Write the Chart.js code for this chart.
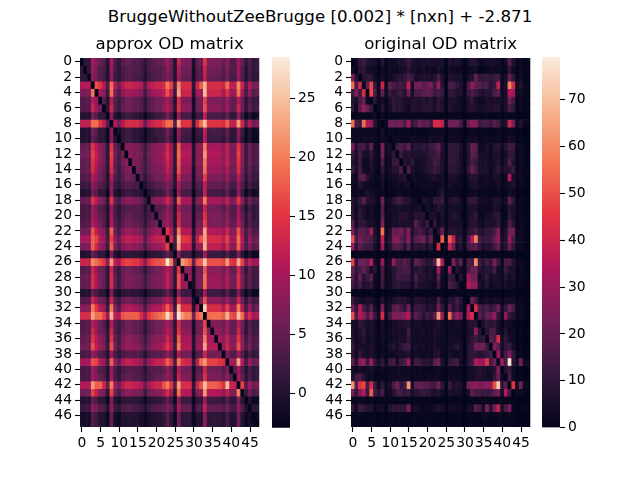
<!DOCTYPE html>
<html>
<head>
<meta charset="utf-8">
<script src="https://cdn.jsdelivr.net/npm/chart.js@4"></script>
<style>
html, body { margin: 0; padding: 0; background: #fff; }
#page { position: relative; width: 640px; height: 480px; overflow: hidden; }
#page canvas { position: absolute; }
#suptitle { position: absolute; left: 0; top: 7px; width: 640px; text-align: center; font: 16.67px "DejaVu Sans"; color: #000; }
</style>
</head>
<body>
<div id="page">
	<div id="suptitle">BruggeWithoutZeeBrugge [0.002] * [nxn] + -2.871</div>
	<canvas id="approx" style="left:30px;top:28px;width:232px;height:432px"></canvas>
	<canvas id="approxBar" style="left:272px;top:46px;width:60px;height:393px"></canvas>
	<canvas id="original" style="left:301px;top:28px;width:232px;height:432px"></canvas>
	<canvas id="originalBar" style="left:542px;top:46px;width:60px;height:393px"></canvas>
</div>
<script>
var cellLabels = [0,1,2,3,4,5,6,7,8,9,10,11,12,13,14,15,16,17,18,19,20,21,22,23,24,25,26,27,28,29,30,31,32,33,34,35,36,37,38,39,40,41,42,43,44,45,46,47];
var xTicks = [0,5,10,15,20,25,30,35,40,45];
var yTicks = [0,2,4,6,8,10,12,14,16,18,20,22,24,26,28,30,32,34,36,38,40,42,44,46];
var approxBarTicks = [0,5,10,15,20,25];
var originalBarTicks = [0,10,20,30,40,50,60,70];
var approxRange = [-2.87, 28.5];
var originalRange = [0, 79];

var approxMatrix = [
[-3,1,1,10,7,5,4,0,10,3,1,4,5,5,4,4,3,1,3,4,5,5,6,9,6,0,13,7,7,7,-1,5,5,15,7,7,7,7,5,8,4,4,10,5,1,4,1,2],
[1,-3,1,9,6,4,3,0,9,3,1,3,4,4,4,4,3,0,3,4,4,4,5,8,5,0,11,6,6,6,-1,4,4,13,6,6,6,6,4,7,4,4,9,4,0,3,1,2],
[1,1,-3,8,6,4,3,0,8,2,1,3,4,4,3,3,2,0,2,3,4,4,5,7,5,0,10,5,5,5,-1,4,4,12,5,5,5,5,4,6,3,3,8,4,0,3,1,1],
[11,11,11,-3,17,15,11,4,19,11,6,11,13,13,12,12,11,4,11,12,13,13,14,20,16,4,21,14,14,14,1,13,18,24,14,14,14,14,13,19,12,12,21,13,4,11,6,7],
[7,7,7,19,-3,10,8,2,19,7,4,8,10,10,9,9,7,3,7,9,10,10,12,17,12,2,23,13,13,13,0,10,10,25,13,13,13,13,10,15,9,9,19,10,3,8,4,5],
[4,4,4,11,8,-3,4,0,11,4,2,4,6,6,5,5,4,1,4,5,6,6,7,10,7,0,14,7,7,7,-1,6,6,16,7,7,7,7,6,9,5,5,11,6,1,4,2,2],
[4,4,4,13,9,6,-3,1,13,4,2,5,6,6,5,5,4,1,4,5,6,6,8,11,8,1,15,8,8,8,-1,6,6,17,8,8,8,8,6,10,5,5,13,6,1,5,2,3],
[0,0,0,6,4,1,1,-3,8,0,-1,1,2,2,1,1,0,-2,0,1,2,2,3,6,3,-2,9,3,3,3,-2,2,2,12,3,3,3,3,2,5,1,1,8,2,-2,0,-2,-1],
[12,12,12,19,19,15,12,4,-3,11,6,11,14,14,14,14,12,5,11,13,14,14,16,19,19,4,23,15,15,15,1,14,19,25,15,15,15,15,14,18,12,12,22,13,4,11,6,7],
[0,0,0,6,4,1,1,-2,8,-3,-1,1,2,2,1,1,0,-2,0,1,2,2,3,6,3,-2,9,3,3,3,-2,2,2,12,3,3,3,3,2,5,1,1,8,2,-2,0,-2,-1],
[0,0,0,5,3,1,1,-2,7,0,-3,1,2,2,1,1,0,-2,0,1,1,2,2,5,2,-2,8,2,2,2,-2,1,1,11,2,2,2,2,1,4,1,1,7,1,-2,0,-2,-2],
[5,5,5,15,11,8,6,1,15,5,3,-3,8,8,7,7,5,2,5,7,8,8,9,13,9,1,18,10,10,10,0,8,8,20,10,10,10,10,8,12,7,7,15,8,2,6,3,4],
[6,6,6,16,12,8,6,1,16,6,3,6,-3,8,7,7,6,2,6,7,8,8,10,14,10,1,19,11,11,11,0,8,8,22,11,11,11,11,8,12,7,7,16,8,2,6,3,4],
[5,5,5,15,11,8,6,1,15,5,3,6,8,-3,7,7,5,2,5,7,8,8,9,13,9,1,18,10,10,10,0,8,8,20,10,10,10,10,8,12,7,7,15,8,2,6,3,4],
[5,5,5,14,10,7,5,1,14,5,2,5,7,7,-3,6,5,2,5,6,7,7,8,12,8,1,17,9,9,9,-1,7,7,19,9,9,9,9,7,11,6,6,14,7,2,5,2,3],
[4,4,4,11,8,6,4,0,11,4,2,4,6,6,5,-3,4,1,4,5,6,6,7,10,7,0,14,7,7,7,-1,6,6,16,7,7,7,7,6,9,5,5,11,6,1,4,2,2],
[2,2,2,8,6,4,3,0,8,2,1,3,4,4,3,3,-3,0,2,3,4,4,5,7,5,0,10,5,5,5,-1,4,4,12,5,5,5,5,4,6,3,3,8,4,0,3,1,1],
[0,0,0,6,4,1,1,-2,8,0,-1,1,2,2,1,1,0,-3,0,1,2,2,3,6,3,-2,9,3,3,3,-2,2,2,12,3,3,3,3,2,5,1,1,8,2,-2,0,-2,-1],
[5,5,5,15,11,8,6,1,15,5,3,6,8,8,7,7,5,2,-3,7,8,8,9,13,9,1,18,10,10,10,0,8,8,20,10,10,10,10,8,12,7,7,15,8,2,6,3,4],
[3,3,3,9,6,4,3,0,9,3,1,3,4,4,4,4,3,0,3,-3,4,4,5,8,5,0,11,6,6,6,-1,4,4,13,6,6,6,6,4,7,4,4,9,4,0,3,1,2],
[3,3,3,10,7,5,4,0,10,3,1,4,5,5,4,4,3,1,3,4,-3,5,6,9,6,0,13,7,7,7,-1,5,5,15,7,7,7,7,5,8,4,4,10,5,1,4,1,2],
[4,4,4,11,8,6,4,0,11,4,2,4,6,6,5,5,4,1,4,5,6,-3,7,10,7,0,14,7,7,7,-1,6,6,16,7,7,7,7,6,9,5,5,11,6,1,4,2,2],
[6,6,6,17,12,9,7,2,18,6,3,7,9,9,8,8,6,3,6,8,9,9,-3,15,11,2,20,11,11,11,0,9,9,23,11,11,11,11,9,13,8,8,17,9,3,7,3,4],
[10,10,10,18,16,11,9,3,16,9,5,10,12,12,11,11,10,4,9,11,12,12,13,-3,14,3,24,15,15,14,1,12,17,23,14,14,14,14,12,16,10,10,19,11,3,9,5,6],
[7,7,7,18,13,9,7,2,18,7,4,7,9,9,8,8,7,3,7,8,9,9,11,16,-3,2,22,12,12,12,0,9,9,24,12,12,12,12,9,14,8,8,18,9,3,7,4,5],
[0,0,0,5,3,1,1,-2,7,0,-1,1,1,1,1,1,0,-2,0,1,1,1,2,5,2,-3,8,2,2,2,-2,1,1,10,2,2,2,2,1,4,1,1,7,1,-2,0,-2,-2],
[13,13,13,21,19,17,15,8,22,12,10,15,16,16,15,15,13,8,14,16,17,17,18,28,20,5,-3,22,20,18,5,17,18,26,17,17,17,17,16,22,15,14,23,16,7,12,9,10],
[4,4,4,13,9,6,5,1,13,4,2,5,6,6,5,5,4,1,4,5,6,6,8,11,8,1,15,-3,8,8,-1,6,6,17,8,8,8,8,6,10,5,5,13,6,1,5,2,3],
[5,5,5,14,10,7,5,1,14,5,2,5,7,7,6,6,5,2,5,6,7,7,8,12,8,1,17,9,-3,9,-1,7,7,19,9,9,9,9,7,11,6,6,14,7,2,5,2,3],
[5,5,5,14,10,7,5,1,14,5,2,5,7,7,6,6,5,2,5,6,7,7,8,12,8,1,17,9,9,-3,-1,7,7,19,9,9,9,9,7,11,6,6,14,7,2,5,2,3],
[0,0,0,5,3,1,1,-2,7,0,-1,1,1,1,1,1,0,-2,0,1,1,1,2,5,2,-2,8,2,2,2,-3,1,1,10,2,2,2,2,1,4,1,1,7,1,-2,0,-2,-2],
[4,4,4,13,9,6,5,1,13,4,2,5,6,6,5,5,4,1,4,5,6,6,8,11,8,1,15,8,8,8,-1,-3,6,17,8,8,8,8,6,10,5,5,13,6,1,5,2,3],
[8,8,8,20,15,11,9,2,20,8,4,9,11,11,10,10,8,3,8,10,11,11,13,18,13,2,24,14,14,14,0,11,-3,26,14,14,14,14,11,16,10,10,20,11,3,9,4,6],
[14,14,14,23,19,19,16,9,24,12,11,17,18,18,18,18,14,9,15,17,18,19,20,27,21,8,28,22,20,20,6,18,20,-3,19,19,19,19,18,24,17,16,25,19,9,14,10,11],
[4,4,4,11,8,6,4,0,11,4,2,4,6,6,5,5,4,1,4,5,6,6,7,10,7,0,14,7,7,7,-1,6,6,16,-3,7,7,7,6,9,5,5,11,6,1,4,2,2],
[4,4,4,13,9,6,5,1,13,4,2,5,6,6,5,5,4,1,4,5,6,6,8,11,8,1,15,8,8,8,-1,6,6,17,8,-3,8,8,6,10,5,5,13,6,1,5,2,3],
[5,5,5,15,11,8,6,1,15,5,3,6,8,8,7,7,5,2,5,7,8,8,9,13,9,1,18,10,10,10,0,8,8,20,10,10,-3,10,8,12,7,7,15,8,2,6,3,4],
[6,6,6,17,12,9,7,2,17,6,3,7,9,9,8,8,6,3,6,8,9,9,11,15,11,2,20,11,11,11,0,9,9,23,11,11,11,-3,9,13,8,8,17,9,3,7,3,4],
[3,3,3,9,6,4,3,0,9,3,1,3,4,4,4,4,3,0,3,4,4,4,5,8,5,0,11,6,6,6,-1,4,4,13,6,6,6,6,-3,7,4,4,9,4,0,3,1,2],
[10,10,10,17,16,11,9,3,18,9,5,10,12,12,11,11,9,4,9,11,12,12,13,18,15,3,20,14,13,13,1,12,19,22,16,16,16,15,14,-3,10,10,23,11,3,9,5,6],
[3,3,3,9,6,4,3,0,9,3,1,3,4,4,4,4,3,0,3,4,4,4,5,8,5,0,11,6,6,6,-1,4,4,13,6,6,6,6,4,7,-3,4,9,4,0,3,1,2],
[3,3,3,10,7,5,4,0,10,3,1,4,5,5,4,4,3,1,3,4,5,5,6,9,6,0,13,7,7,7,-1,5,5,15,7,7,7,7,5,8,4,-3,10,5,1,4,1,2],
[11,11,11,22,18,18,13,5,20,10,6,11,13,13,12,12,11,5,10,12,13,13,17,20,15,4,22,14,14,14,1,13,17,25,18,18,18,17,15,25,13,12,-3,16,4,10,6,7],
[6,6,6,16,12,8,6,1,16,6,3,6,8,8,7,7,6,2,6,7,8,8,10,14,10,1,19,11,11,11,0,8,8,22,11,11,11,11,8,12,7,7,20,-3,2,6,3,4],
[0,0,0,5,3,1,1,-2,7,0,-1,1,1,1,1,1,0,-2,0,1,1,1,2,5,2,-2,8,2,2,2,-2,1,1,10,2,2,2,2,1,4,1,1,7,1,-3,0,-2,-2],
[2,2,2,8,6,4,3,0,8,2,1,3,4,4,3,3,2,0,2,3,4,4,5,7,5,0,10,5,5,5,-1,4,4,12,5,5,5,5,4,6,3,3,8,4,0,-3,1,1],
[-1,-1,-1,4,2,0,0,-2,5,-1,-2,0,0,0,0,0,-1,-2,-1,0,0,0,1,4,1,-2,6,1,1,1,-2,0,0,8,1,1,1,1,0,3,0,0,6,0,-2,-1,-3,-2],
[-1,-1,-1,4,2,0,0,-2,5,-1,-2,0,0,0,0,0,-1,-2,-1,0,0,0,1,4,1,-2,6,1,1,1,-2,0,0,8,1,1,1,1,0,3,0,0,6,0,-2,-1,-2,-3]
];

var originalMatrix = [
[0,3,10,12,8,6,5,1,8,1,4,3,5,6,7,12,6,4,5,6,6,5,6,5,6,0,8,5,6,4,0,5,8,8,3,3,5,6,5,4,1,4,18,7,1,3,1,1],
[3,0,8,10,5,4,3,0,3,1,4,3,2,5,5,9,5,4,2,5,2,4,2,6,3,0,4,3,2,3,0,2,3,4,1,1,1,3,3,2,1,2,10,3,0,2,1,1],
[25,8,0,8,10,9,3,1,5,1,3,5,8,8,10,15,12,4,6,7,6,5,7,15,6,0,7,6,5,5,0,4,7,20,10,10,12,10,12,14,2,5,20,10,1,4,1,1],
[55,15,40,0,20,48,12,1,40,2,20,15,12,14,12,38,5,22,25,18,20,25,12,30,8,0,15,15,10,6,1,15,28,20,18,15,15,8,12,38,3,5,58,42,2,8,2,1],
[12,25,12,42,0,48,15,2,20,2,12,8,10,12,8,22,5,15,15,18,20,18,12,15,12,0,10,10,6,6,1,12,15,12,8,6,8,8,15,18,3,4,35,32,2,4,1,1],
[8,5,15,20,2,0,8,2,5,1,6,10,8,8,6,5,6,6,6,8,6,8,5,10,6,0,6,6,5,3,1,6,10,5,3,3,6,5,6,5,3,5,22,15,1,3,1,1],
[10,3,18,30,20,12,0,2,8,1,4,10,8,8,6,3,8,6,6,8,8,8,6,10,7,1,8,5,4,3,1,6,7,6,5,5,6,6,8,8,2,6,15,10,1,3,1,1],
[1,1,1,1,1,2,3,0,3,0,1,1,1,1,1,1,1,1,1,1,1,1,1,1,1,0,1,1,1,1,0,1,1,1,1,1,1,1,1,1,0,1,1,1,0,0,0,0],
[55,15,12,55,35,30,8,2,0,2,22,22,22,22,15,33,10,15,22,18,20,12,42,42,38,3,22,22,22,15,2,20,28,26,12,15,15,12,18,14,4,6,40,25,3,8,2,1],
[2,2,2,2,2,2,2,0,5,0,2,1,1,1,1,2,1,1,1,1,1,2,2,2,2,0,2,2,2,1,0,1,2,2,1,1,1,1,1,2,1,1,2,1,0,1,0,0],
[3,2,2,3,3,3,2,1,3,2,0,3,3,2,2,2,4,3,3,2,2,4,3,4,4,0,3,3,3,2,0,3,3,4,2,2,2,2,2,3,1,2,5,3,0,1,0,0],
[25,8,14,15,8,20,3,1,25,3,5,0,14,16,12,20,6,8,8,10,8,12,14,20,8,1,10,10,10,6,1,8,20,18,3,3,6,3,8,8,3,8,14,12,2,3,1,0],
[12,5,14,6,5,10,3,1,22,3,5,10,0,12,6,8,6,6,6,6,8,10,12,15,6,1,10,10,10,5,1,7,18,16,5,5,5,3,6,6,2,5,10,10,1,3,1,0],
[8,5,12,3,3,8,3,1,15,2,3,12,12,0,8,6,10,4,5,5,7,9,14,12,6,1,10,10,8,5,1,8,15,12,6,5,5,3,5,8,2,6,16,8,1,3,1,0],
[12,5,14,4,3,6,3,1,10,2,4,8,8,15,0,16,5,3,4,5,7,8,12,10,6,1,9,9,8,5,1,10,20,14,6,6,6,3,6,10,4,7,8,12,1,3,1,1],
[4,3,16,18,8,4,2,1,6,1,3,4,5,6,8,0,3,3,3,3,3,5,6,4,4,0,6,6,5,2,0,5,8,8,4,3,4,3,6,4,1,2,35,5,1,3,1,0],
[3,3,8,4,3,2,1,1,4,0,2,3,3,2,4,5,0,2,2,3,3,3,2,3,4,1,5,3,3,2,0,3,5,6,3,3,3,2,3,5,1,3,4,7,1,2,1,0],
[2,2,2,3,6,4,2,1,2,0,1,1,2,2,1,2,1,0,1,1,1,1,1,4,8,1,2,2,2,1,0,1,2,3,1,1,1,1,1,2,0,1,4,2,0,1,0,0],
[8,5,10,18,8,6,4,1,22,2,4,8,13,13,8,8,4,2,0,6,4,3,10,10,12,1,6,8,8,4,0,8,10,10,4,3,3,3,6,6,2,4,18,10,1,2,1,0],
[8,2,8,6,3,4,2,1,16,1,4,5,5,5,5,5,2,4,5,0,5,2,4,8,6,1,4,5,4,3,0,5,6,6,2,2,2,2,6,5,1,2,8,5,1,1,1,0],
[10,3,10,6,3,5,2,1,18,2,3,5,5,8,8,6,4,8,8,8,0,6,6,2,6,1,5,8,6,3,0,4,7,10,2,2,4,5,8,10,1,1,10,6,1,2,1,0],
[18,4,10,10,6,5,3,1,25,2,3,6,5,6,6,6,5,18,10,6,12,0,10,3,6,1,6,5,5,4,0,5,8,8,4,3,6,6,6,10,2,3,16,8,1,2,1,0],
[25,10,18,18,14,30,6,2,55,3,6,20,20,22,15,25,6,12,15,12,6,12,0,8,20,2,8,8,6,6,1,8,10,15,8,7,10,10,15,25,3,6,22,22,2,3,1,0],
[50,15,22,18,18,15,8,2,38,3,8,25,28,18,15,28,8,18,20,22,10,20,2,0,52,2,52,38,8,10,1,14,35,58,14,10,12,12,20,28,4,8,30,15,2,3,1,0],
[30,8,18,15,12,12,5,1,30,2,6,16,18,15,8,18,5,10,8,10,5,10,1,42,0,3,38,22,5,8,1,14,16,18,10,5,8,8,14,18,4,8,20,10,2,3,1,0],
[1,1,1,1,1,1,1,0,1,0,1,1,1,1,1,1,1,1,1,1,1,1,1,1,1,0,1,1,1,1,0,1,1,1,1,1,1,1,1,1,0,1,1,1,0,0,0,0],
[48,10,22,22,18,35,5,2,30,2,5,30,14,14,18,14,5,20,16,12,8,8,18,70,35,1,0,25,10,18,1,16,14,60,12,8,14,10,24,12,3,15,15,8,2,2,1,0],
[20,10,14,20,14,4,8,1,15,2,4,8,12,14,15,15,5,8,10,7,4,6,3,32,5,1,30,0,8,4,1,14,20,22,8,6,8,8,14,4,3,12,6,6,1,3,1,0],
[18,8,20,8,12,18,3,1,15,2,3,8,14,12,12,12,5,15,8,8,6,6,3,18,3,1,12,10,0,8,1,30,22,22,3,6,10,4,7,5,2,8,4,6,1,2,1,0],
[14,8,14,6,8,10,3,1,12,2,4,8,10,8,8,8,3,10,6,6,5,3,3,12,3,1,16,12,8,0,1,35,28,28,5,3,8,3,4,5,2,6,3,4,1,2,1,0],
[1,1,1,1,1,1,1,0,1,0,1,1,1,1,1,1,1,1,1,1,1,1,1,1,1,0,1,1,1,1,0,1,1,1,1,1,1,1,1,1,0,1,1,1,0,0,0,0],
[12,6,5,4,6,5,2,1,8,1,3,6,8,8,8,5,3,7,7,6,4,5,3,15,4,1,8,8,14,8,1,0,22,14,3,3,5,3,5,4,1,5,5,4,1,2,1,0],
[25,10,35,15,8,18,4,1,25,2,6,18,20,15,10,22,4,12,12,10,6,8,6,22,10,1,18,8,12,6,1,32,0,42,16,12,15,10,14,22,4,10,22,15,2,3,1,0],
[50,15,35,28,15,28,10,3,42,3,14,25,25,24,28,35,8,18,15,8,14,10,18,62,30,1,55,20,30,22,1,35,42,0,18,12,20,20,30,10,3,28,10,8,2,3,1,0],
[5,5,10,8,5,6,3,1,5,1,2,5,5,6,8,8,3,4,5,3,4,3,4,6,3,1,4,3,4,3,0,6,8,8,0,6,10,8,10,5,1,5,4,1,0,1,0,0],
[6,3,6,10,4,6,3,1,4,1,3,5,4,5,5,14,3,3,4,5,3,3,6,5,3,1,3,3,3,3,0,5,6,28,8,0,8,15,14,5,2,8,3,3,0,1,0,0],
[8,3,5,8,3,5,3,1,4,1,2,4,4,6,5,10,3,3,4,3,3,3,5,4,3,1,4,4,4,3,0,6,10,12,8,10,0,18,15,42,4,10,5,3,0,1,0,0],
[12,4,5,5,5,6,3,1,3,1,5,8,5,8,12,14,3,5,4,5,3,3,6,4,3,1,5,6,8,4,0,8,10,22,22,22,12,0,25,18,4,10,12,5,0,1,0,0],
[10,3,10,6,5,6,3,1,3,1,2,3,5,5,6,8,2,4,3,2,3,3,6,8,2,1,5,3,3,4,0,8,10,10,8,8,10,14,0,32,5,14,25,10,1,2,0,0],
[20,8,25,30,12,30,10,4,10,2,12,15,5,12,15,30,4,14,12,8,8,6,18,22,6,1,10,12,14,4,0,8,12,35,30,30,45,15,22,0,30,14,78,8,3,25,3,2],
[4,3,4,3,3,5,2,1,3,1,2,2,3,3,2,3,2,1,2,1,1,1,2,3,1,0,3,2,2,1,0,3,4,6,8,6,4,5,8,25,0,8,12,3,0,1,0,0],
[6,12,15,8,3,4,1,1,1,1,2,3,3,3,3,3,1,2,2,2,2,2,3,3,1,0,3,3,2,2,0,3,4,6,7,6,4,3,10,20,3,0,15,3,0,1,0,0],
[62,18,45,48,15,42,12,3,10,2,5,15,22,10,15,62,5,18,20,18,18,15,14,22,10,1,12,5,8,6,1,22,25,28,25,25,28,28,50,72,10,18,0,45,3,22,3,1],
[25,10,25,35,12,52,12,8,15,2,3,8,14,14,10,14,5,8,10,12,10,8,6,8,4,1,6,4,5,4,0,5,18,15,15,12,12,14,20,22,4,35,12,0,2,3,1,0],
[2,2,2,2,1,2,1,1,1,1,1,1,1,1,1,1,1,1,1,1,1,1,1,1,1,0,1,1,1,1,0,1,1,1,1,1,1,1,1,1,1,1,1,1,0,0,0,0],
[10,3,14,10,8,8,2,5,5,1,8,10,10,10,10,25,3,5,3,2,2,2,5,6,5,1,4,3,3,2,0,5,5,18,14,4,25,8,24,38,6,15,25,2,0,1,1,0],
[1,1,1,1,1,1,1,0,1,0,1,1,1,1,1,1,1,1,1,1,1,1,1,1,1,0,1,1,1,1,0,1,1,1,1,2,2,1,1,2,1,1,2,1,0,0,0,0],
[1,1,1,1,1,1,1,0,1,0,1,1,1,1,1,1,1,1,1,1,1,1,1,1,1,0,1,1,1,1,0,1,1,1,1,1,1,1,1,1,1,1,1,1,0,0,0,0]
];

// rocket colormap
var rocketStops = [[3,5,26],[53,25,62],[112,31,87],[173,23,89],[225,51,66],[243,118,81],[246,180,143],[250,235,221]];

function rocketColor(t) {
	t = Math.min(1, Math.max(0, t)) * (rocketStops.length - 1);
	var i = Math.min(Math.floor(t), rocketStops.length - 2);
	var a = rocketStops[i], b = rocketStops[i + 1], f = t - i;
	return 'rgb(' + [0, 1, 2].map(function (k) { return Math.round(a[k] + (b[k] - a[k]) * f); }).join(',') + ')';
}

var tickFont = { family: 'DejaVu Sans', size: 13.89 };

function initHeatmap(elementId, matrix, range, title) {
	var datasets = matrix.map(function (row) {
		return {
			data: row.map(function () { return 1; }),
			backgroundColor: row.map(function (v) { return rocketColor((v - range[0]) / (range[1] - range[0])); }),
			barPercentage: 1,
			categoryPercentage: 1
		};
	});
	return new Chart(document.getElementById(elementId), {
		type: 'bar',
		data: { labels: cellLabels, datasets: datasets },
		options: {
			responsive: false,
			animation: false,
			layout: { padding: { right: 2 } },
			plugins: {
				legend: { display: false },
				tooltip: { enabled: false },
				title: {
					display: true,
					text: title,
					fullSize: false,
					color: '#000',
					font: { family: 'DejaVu Sans', size: 16.67, weight: 'normal', lineHeight: 1.2 },
					padding: { top: 7, bottom: 3 }
				}
			},
			scales: {
				x: {
					stacked: true,
					afterBuildTicks: function (scale) {
						scale.ticks = xTicks.map(function (v) { return { value: v }; });
					},
					afterFit: function (scale) { scale.height = 33; },
					ticks: { autoSkip: false, maxRotation: 0, minRotation: 0, padding: 3, color: '#000', font: tickFont },
					grid: { offset: false, drawOnChartArea: false, tickLength: 5, tickColor: '#000', tickWidth: 1.1 },
					border: { display: false }
				},
				y: {
					stacked: true,
					reverse: true,
					min: 0,
					max: 48,
					afterBuildTicks: function (scale) {
						scale.ticks = yTicks.map(function (v) { return { value: v + 0.5 }; });
					},
					afterFit: function (scale) { scale.width = 50; },
					ticks: {
						autoSkip: false,
						padding: 3,
						color: '#000',
						font: tickFont,
						callback: function (value) { return String(value - 0.5); }
					},
					grid: { drawOnChartArea: false, tickLength: 5, tickColor: '#000', tickWidth: 1.1 },
					border: { display: false }
				}
			}
		}
	});
}

function initColorBar(elementId, range, barTicks) {
	return new Chart(document.getElementById(elementId), {
		type: 'bar',
		data: {
			labels: [''],
			datasets: [{
				data: [range],
				barPercentage: 1,
				categoryPercentage: 1,
				backgroundColor: function (context) {
					var chart = context.chart;
					if (!chart.chartArea) return '#000';
					var y = chart.scales.y;
					var gradient = chart.ctx.createLinearGradient(0, y.getPixelForValue(range[0]), 0, y.getPixelForValue(range[1]));
					rocketStops.forEach(function (c, i) {
						gradient.addColorStop(i / (rocketStops.length - 1), 'rgb(' + c.join(',') + ')');
					});
					return gradient;
				}
			}]
		},
		options: {
			responsive: false,
			animation: false,
			layout: { padding: { top: 4, bottom: 4 } },
			plugins: { legend: { display: false }, tooltip: { enabled: false } },
			scales: {
				x: { display: false },
				y: {
					position: 'right',
					min: range[0],
					max: range[1],
					afterBuildTicks: function (scale) {
						scale.ticks = barTicks.map(function (v) { return { value: v }; });
					},
					afterFit: function (scale) { scale.width = 42; },
					ticks: { padding: 3, color: '#000', font: tickFont },
					grid: { drawOnChartArea: false, tickLength: 5, tickColor: '#000', tickWidth: 1.1 },
					border: { display: false }
				}
			}
		}
	});
}

function sizeCanvas(id) {
	var c = document.getElementById(id);
	c.width = parseInt(c.style.width);
	c.height = parseInt(c.style.height);
}
['approx', 'approxBar', 'original', 'originalBar'].forEach(sizeCanvas);

initHeatmap('approx', approxMatrix, approxRange, 'approx OD matrix');
initColorBar('approxBar', approxRange, approxBarTicks);
initHeatmap('original', originalMatrix, originalRange, 'original OD matrix');
initColorBar('originalBar', originalRange, originalBarTicks);
</script>
</body>
</html>
